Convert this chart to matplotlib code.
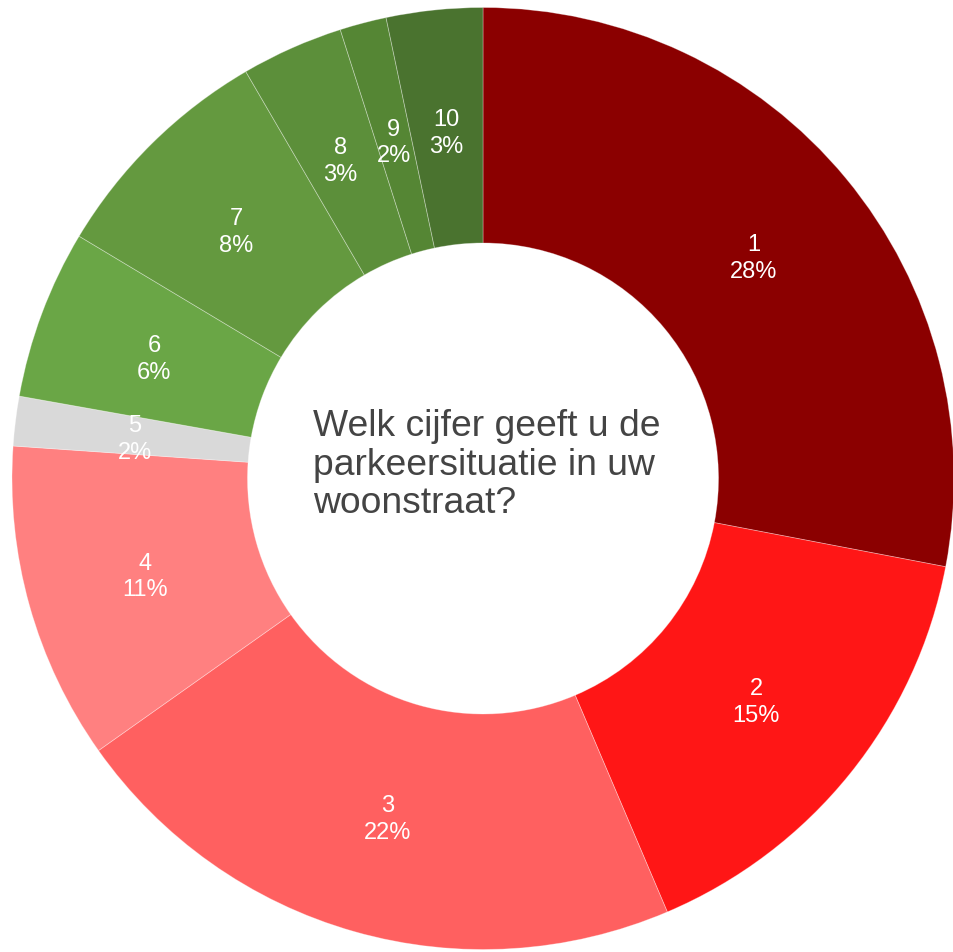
import matplotlib
matplotlib.use("Agg")
import matplotlib.pyplot as plt
import numpy as np

categories = ["1", "2", "3", "4", "5", "6", "7", "8", "9", "10"]
values = [28.0, 15.6, 21.6, 10.9, 1.7, 5.8, 8.0, 3.5, 1.6, 3.3]
pct_labels = ["28%", "15%", "22%", "11%", "2%", "6%", "8%", "3%", "2%", "3%"]
colors = ["#8b0000", "#ff1616", "#ff6060", "#ff8080", "#d9d9d9",
          "#6aa646", "#64993f", "#5c8f3a", "#558634", "#4a732f"]
title = "Welk cijfer geeft u de\nparkeersituatie in uw\nwoonstraat?"

W, H = 954, 952
fig = plt.figure(figsize=(W / 100, H / 100), dpi=100)
cx, cy, R = 483, 478.5, 471
ax = fig.add_axes([(cx - R) / W, (H - cy - R) / H, 2 * R / W, 2 * R / H])

wedges, _ = ax.pie(values, colors=colors, startangle=90, counterclock=False,
                   radius=1.0,
                   wedgeprops=dict(width=0.5, edgecolor=(1, 1, 1, 0.35), linewidth=0.6))
ax.set_xlim(-1, 1)
ax.set_ylim(-1, 1)
ax.set_aspect("equal")
ax.axis("off")

for w, cat, pl in zip(wedges, categories, pct_labels):
    ang = np.deg2rad((w.theta1 + w.theta2) / 2)
    r = 0.745
    ax.text(r * np.cos(ang), r * np.sin(ang) - 0.008, f"{cat}\n{pl}", ha="center", va="center",
            color="white", fontsize=17, family="Liberation Sans", linespacing=1.28)

fig.text(313 / W, 1 - 465 / H, title, ha="left", va="center", fontsize=26.8,
         color="#444444", family="Liberation Sans", linespacing=1.12)

fig.savefig("out.png", dpi=100)
